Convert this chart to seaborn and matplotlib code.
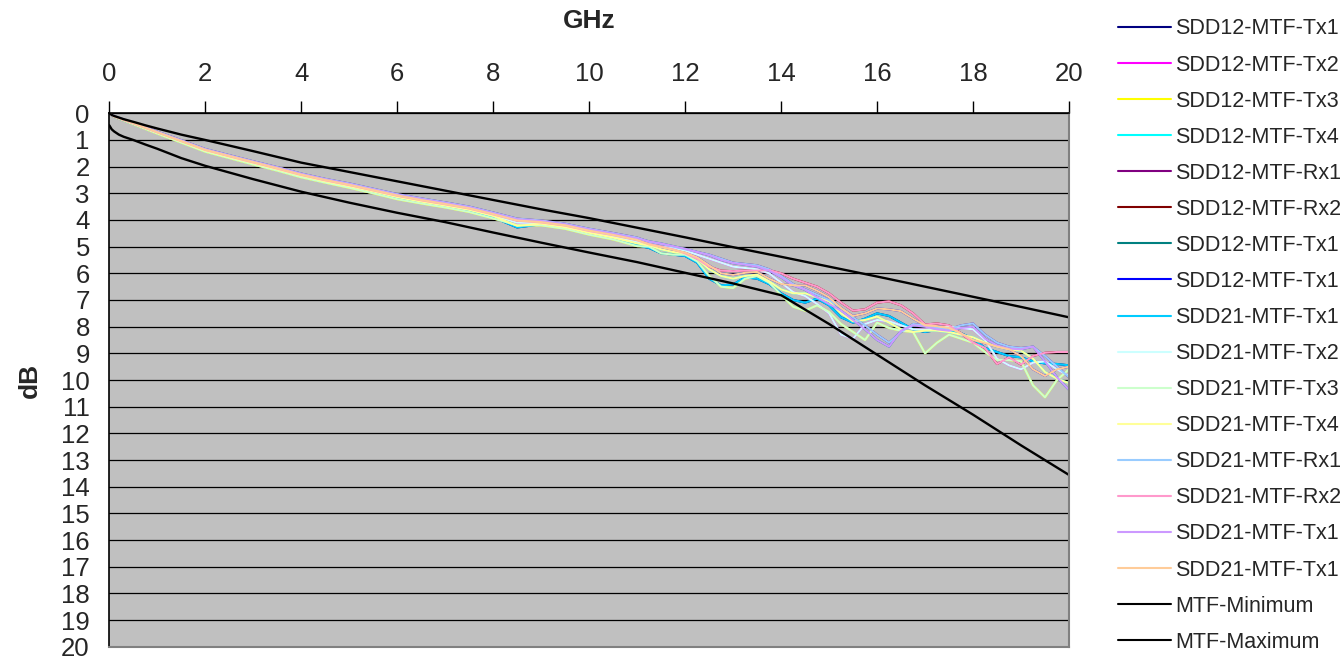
import numpy as np
import pandas as pd
import matplotlib
matplotlib.use("Agg")
import matplotlib.pyplot as plt
import seaborn as sns
from matplotlib.lines import Line2D

# ---------------- data ----------------
freq_ghz = [0, 0.1, 0.5, 1.0, 1.5, 2.0, 2.5, 3.0, 3.5, 4.0, 4.5, 5.0, 5.5, 6.0, 6.5, 7.0,
            7.5, 8.0, 8.5, 9.0, 9.5, 10.0, 10.5, 11.0,
            11.25, 11.5, 11.75, 12.0, 12.25, 12.5, 12.75, 13.0, 13.25, 13.5, 13.75, 14.0,
            14.25, 14.5, 14.75, 15.0, 15.25, 15.5, 15.75, 16.0, 16.25, 16.5, 16.75, 17.0,
            17.25, 17.5, 17.75, 18.0, 18.25, 18.5, 18.75, 19.0, 19.25, 19.5, 19.75, 20.0]

ch_tx1_a = [0, 0.13, 0.40, 0.74, 1.08, 1.42, 1.66, 1.90, 2.13, 2.38, 2.58, 2.76, 2.97, 3.18, 3.35, 3.50,
            3.66, 3.90, 4.28, 4.16, 4.30, 4.52, 4.70, 4.95,
            5.05, 5.25, 5.30, 5.35, 5.60, 6.20, 6.45, 6.42, 6.15, 6.20, 6.40, 6.75,
            7.00, 7.10, 6.95, 7.20, 7.65, 7.85, 7.70, 7.50, 7.60, 7.85, 8.10, 8.20,
            8.12, 8.15, 8.25, 8.45, 8.80, 8.95, 9.10, 9.15, 9.30, 9.38, 9.40, 9.45]
ch_tx2 = [0, 0.12, 0.38, 0.72, 1.05, 1.39, 1.63, 1.86, 2.09, 2.33, 2.53, 2.72, 2.91, 3.12, 3.29, 3.44,
          3.60, 3.83, 4.10, 4.12, 4.24, 4.45, 4.62, 4.82,
          4.90, 5.00, 5.05, 5.15, 5.30, 5.45, 5.60, 5.75, 5.80, 5.85, 6.00, 6.35,
          6.70, 6.85, 7.15, 7.50, 8.30, 8.45, 7.90, 7.75, 7.80, 7.95, 8.10, 8.12,
          8.05, 8.00, 8.05, 8.10, 8.50, 9.20, 9.45, 9.60, 9.35, 9.30, 9.60, 9.85]
ch_tx3 = [0, 0.13, 0.41, 0.76, 1.10, 1.44, 1.68, 1.92, 2.15, 2.40, 2.60, 2.79, 3.00, 3.22, 3.38, 3.53,
          3.70, 3.94, 4.20, 4.20, 4.33, 4.55, 4.73, 4.98,
          5.00, 5.25, 5.30, 5.30, 5.55, 6.10, 6.50, 6.55, 6.20, 6.10, 6.35, 6.80,
          7.25, 7.40, 7.20, 7.45, 7.90, 8.20, 8.50, 7.85, 8.05, 8.15, 8.20, 9.00,
          8.60, 8.30, 8.45, 8.60, 8.95, 9.25, 9.25, 9.30, 10.20, 10.65, 10.00, 9.60]
ch_tx4 = [0, 0.12, 0.39, 0.73, 1.06, 1.40, 1.64, 1.87, 2.10, 2.34, 2.55, 2.73, 2.93, 3.14, 3.31, 3.46,
          3.62, 3.85, 4.22, 4.14, 4.27, 4.48, 4.66, 4.88,
          4.95, 5.10, 5.20, 5.25, 5.45, 5.85, 6.10, 6.20, 6.10, 6.05, 6.30, 6.60,
          6.75, 6.75, 6.90, 7.05, 7.50, 7.80, 7.75, 7.62, 7.85, 8.10, 8.20, 8.15,
          8.15, 8.20, 8.30, 8.40, 8.60, 8.75, 8.85, 8.90, 9.20, 9.70, 9.95, 10.12]
ch_rx1 = [0, 0.11, 0.36, 0.69, 1.01, 1.34, 1.57, 1.80, 2.02, 2.26, 2.46, 2.63, 2.83, 3.03, 3.19, 3.34,
          3.50, 3.72, 3.95, 4.02, 4.14, 4.33, 4.49, 4.66,
          4.82, 4.90, 5.00, 5.10, 5.20, 5.30, 5.45, 5.60, 5.65, 5.70, 5.85, 6.10,
          6.40, 6.60, 6.80, 7.00, 7.30, 7.65, 7.95, 8.30, 8.60, 8.20, 7.90, 7.95,
          8.05, 8.10, 7.95, 7.88, 8.30, 8.60, 8.75, 8.80, 8.75, 9.10, 9.50, 9.90]
ch_rx2 = [0, 0.12, 0.38, 0.71, 1.04, 1.37, 1.61, 1.84, 2.07, 2.31, 2.51, 2.69, 2.89, 3.09, 3.26, 3.41,
          3.57, 3.79, 4.03, 4.09, 4.21, 4.41, 4.57, 4.76,
          4.90, 5.00, 5.10, 5.25, 5.45, 5.75, 5.90, 5.92, 5.90, 5.90, 5.88, 6.00,
          6.20, 6.35, 6.50, 6.75, 7.10, 7.40, 7.35, 7.10, 7.05, 7.20, 7.50, 7.92,
          7.88, 7.95, 8.25, 8.60, 8.80, 9.40, 9.15, 9.42, 9.10, 8.98, 8.95, 8.95]
ch_tx1_b = [0, 0.11, 0.36, 0.70, 1.02, 1.35, 1.58, 1.81, 2.03, 2.27, 2.47, 2.65, 2.85, 3.05, 3.21, 3.36,
            3.52, 3.74, 3.97, 4.04, 4.16, 4.35, 4.51, 4.69,
            4.80, 4.88, 4.98, 5.08, 5.20, 5.32, 5.50, 5.62, 5.68, 5.75, 5.90, 6.15,
            6.45, 6.62, 6.90, 7.15, 7.40, 7.75, 8.10, 8.50, 8.75, 8.15, 7.95, 8.00,
            8.10, 8.15, 8.05, 8.00, 8.45, 8.70, 8.82, 8.85, 8.75, 9.30, 9.90, 10.37]
ch_tx1_c = [0, 0.12, 0.37, 0.71, 1.04, 1.37, 1.60, 1.83, 2.06, 2.30, 2.50, 2.68, 2.88, 3.08, 3.25, 3.40,
            3.56, 3.78, 4.02, 4.08, 4.20, 4.40, 4.56, 4.75,
            4.92, 5.02, 5.12, 5.22, 5.40, 5.70, 6.00, 6.06, 5.98, 5.95, 6.20, 6.40,
            6.45, 6.45, 6.65, 6.90, 7.30, 7.60, 7.50, 7.32, 7.35, 7.42, 7.70, 7.95,
            7.98, 8.05, 8.25, 8.50, 8.62, 8.75, 8.85, 9.10, 9.60, 9.85, 9.60, 9.50]

limit_freq = [0, 0.05, 0.1, 0.2, 0.3, 0.5, 0.75, 1, 1.5, 2, 3, 4, 5, 6, 7, 8, 9, 10, 11, 12, 13, 14,
              15, 16, 17, 18, 19, 20]
mtf_minimum = [0, 0.06, 0.1, 0.16, 0.22, 0.32, 0.45, 0.57, 0.80, 1.0, 1.42, 1.85, 2.2, 2.55, 2.9,
               3.25, 3.6, 3.93, 4.29, 4.65, 5.02, 5.38, 5.75, 6.12, 6.5, 6.88, 7.26, 7.65]
mtf_maximum = [0.45, 0.6, 0.68, 0.8, 0.88, 1.0, 1.17, 1.33, 1.68, 1.97, 2.47, 2.94, 3.35, 3.73,
               4.08, 4.47, 4.85, 5.22, 5.58, 5.98, 6.38, 6.82, 7.9, 9.05, 10.2, 11.3, 12.45, 13.56]

series_names = ["SDD12-MTF-Tx1", "SDD12-MTF-Tx2", "SDD12-MTF-Tx3", "SDD12-MTF-Tx4",
                "SDD12-MTF-Rx1", "SDD12-MTF-Rx2", "SDD12-MTF-Tx1", "SDD12-MTF-Tx1",
                "SDD21-MTF-Tx1", "SDD21-MTF-Tx2", "SDD21-MTF-Tx3", "SDD21-MTF-Tx4",
                "SDD21-MTF-Rx1", "SDD21-MTF-Rx2", "SDD21-MTF-Tx1", "SDD21-MTF-Tx1"]
series_values = [ch_tx1_a, ch_tx2, ch_tx3, ch_tx4, ch_rx1, ch_rx2, ch_tx1_b, ch_tx1_c,
                 ch_tx1_a, ch_tx2, ch_tx3, ch_tx4, ch_rx1, ch_rx2, ch_tx1_b, ch_tx1_c]
series_colors = ["#000080", "#FF00FF", "#FFFF00", "#00FFFF", "#800080", "#800000",
                 "#008080", "#0000FF", "#00CCFF", "#CCFFFF", "#CCFFCC", "#FFFF99",
                 "#99CCFF", "#FF99CC", "#CC99FF", "#FFCC99"]

# ---------------- plot ----------------
sns.set_style("white")
plt.rcParams["font.family"] = ["Liberation Sans", "DejaVu Sans"]

fig = plt.figure(figsize=(13.44, 6.6), dpi=100)
ax = fig.add_axes([109.3 / 1344, 1 - 646.7 / 660, (1069 - 109.3) / 1344, (646.7 - 113.3) / 660])
ax.set_facecolor("#C0C0C0")

for i, (name, vals, col) in enumerate(zip(series_names, series_values, series_colors)):
    df = pd.DataFrame({"GHz": freq_ghz, "dB": vals})
    sns.lineplot(data=df, x="GHz", y="dB", ax=ax, color=col, linewidth=1.5,
                 sort=False, legend=False)

for name, vals in [("MTF-Minimum", mtf_minimum), ("MTF-Maximum", mtf_maximum)]:
    df = pd.DataFrame({"GHz": limit_freq, "dB": vals})
    sns.lineplot(data=df, x="GHz", y="dB", ax=ax, color="black", linewidth=1.7,
                 sort=False, legend=False)

ax.set_xlim(0, 20)
ax.set_ylim(20, 0)
ax.set_xticks(np.arange(0, 21, 2))
ax.set_yticks(np.arange(0, 21, 1))
ax.xaxis.tick_top()
ax.xaxis.set_label_position("top")
ax.set_xlabel("GHz", fontsize=19, fontweight="bold", labelpad=24)
ax.set_ylabel("dB", fontsize=19, fontweight="bold", labelpad=14)
ax.tick_params(axis="both", labelsize=18.5, direction="out", length=9, width=1, color="black")
ax.tick_params(axis="x", pad=11)
ax.tick_params(axis="y", pad=5)
ax.yaxis.grid(True, color="black", linewidth=0.9)
ax.xaxis.grid(False)
for side in ["top", "left"]:
    ax.spines[side].set_color("black")
    ax.spines[side].set_linewidth(1.2)
for side in ["right", "bottom"]:
    ax.spines[side].set_color("#808080")
    ax.spines[side].set_linewidth(1.5)
ax.set_axisbelow(True)

# legend
handles = [Line2D([], [], color=c, linewidth=1.5) for c in series_colors]
handles += [Line2D([], [], color="black", linewidth=1.5), Line2D([], [], color="black", linewidth=1.5)]
labels = series_names + ["MTF-Minimum", "MTF-Maximum"]
fig.legend(handles, labels, loc="upper left", bbox_to_anchor=(1118 / 1344, 0.972),
           bbox_transform=fig.transFigure, frameon=False, fontsize=15.5,
           handlelength=2.45, handletextpad=0.2, labelspacing=0.70,
           borderpad=0, borderaxespad=0)

fig.savefig("out.png", dpi=100)
